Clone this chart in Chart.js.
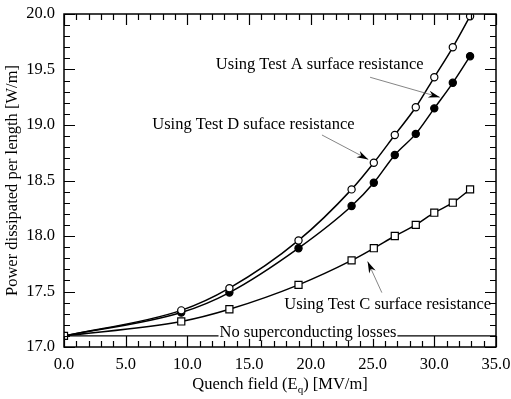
<!DOCTYPE html>
<html>
<head>
<meta charset="utf-8">
<script src="https://cdn.jsdelivr.net/npm/chart.js@4"></script>
<style>
  body { margin: 0; background: #fff; }
  #wrap { width: 511px; height: 399px; }
</style>
</head>
<body>
<div id="wrap"><canvas id="powerChart" width="511" height="399"></canvas></div>
<script>
// quench field values (MV/m), same for all three curves
let quenchField = [0, 9.5, 13.4, 19.0, 23.3, 25.1, 26.8, 28.5, 30.0, 31.5, 32.9];
// power dissipated per length (W/m)
let testA = [17.10, 17.33, 17.53, 17.96, 18.42, 18.66, 18.91, 19.16, 19.43, 19.70, 19.98];
let testD = [17.10, 17.31, 17.49, 17.89, 18.27, 18.48, 18.73, 18.92, 19.15, 19.38, 19.62];
let testC = [17.10, 17.23, 17.34, 17.56, 17.78, 17.89, 18.00, 18.10, 18.21, 18.30, 18.42];
let noLossX = [0, 35];
let noLossY = [17.1, 17.1];

let xTicks = [0, 5, 10, 15, 20, 25, 30, 35];
let yTicks = [17.0, 17.5, 18.0, 18.5, 19.0, 19.5, 20.0];

const FONT = '"Liberation Serif", "DejaVu Serif", serif';

function toPoints(xs, ys) {
    return xs.map((x, i) => ({ x: x, y: ys[i] }));
}

// arrows and labels, given in data coordinates (x,y = left edge / middle of text)
let notes = [
    { text: 'Using Test A surface resistance', x: 12.3, y: 19.54, from: [24.8, 19.43], to: [30.45, 19.25] },
    { text: 'Using Test D suface resistance', x: 7.15, y: 19.0, from: [20.9, 18.91], to: [24.65, 18.69] },
    { text: 'Using Test C surface resistance', x: 17.85, y: 17.385, from: [25.75, 17.49], to: [24.6, 17.77] }
];

const framePlugin = {
    id: 'frame',
    afterDraw(chart) {
        let ctx = chart.ctx;
        let xs = chart.scales.x, ys = chart.scales.y;
        let a = chart.chartArea;
        ctx.save();
        ctx.strokeStyle = '#000';
        ctx.lineWidth = 1.5;
        ctx.strokeRect(a.left, a.top, a.right - a.left, a.bottom - a.top);

        // inward ticks on all four sides
        ctx.lineWidth = 1.2;
        ctx.beginPath();
        for (let i = 0; i <= 35; i++) {
            let px = Math.round(xs.getPixelForValue(i)) + 0.5;
            let len = i % 5 == 0 ? 11 : 6;
            ctx.moveTo(px, a.bottom); ctx.lineTo(px, a.bottom - len);
            ctx.moveTo(px, a.top); ctx.lineTo(px, a.top + len);
        }
        for (let i = 0; i <= 30; i++) {
            let v = 17 + i / 10;
            let py = Math.round(ys.getPixelForValue(v)) + 0.5;
            let len = i % 5 == 0 ? 11 : 6;
            ctx.moveTo(a.left, py); ctx.lineTo(a.left + len, py);
            ctx.moveTo(a.right, py); ctx.lineTo(a.right - len, py);
        }
        ctx.stroke();

        ctx.font = '16.5px ' + FONT;
        ctx.fillStyle = '#000';

        // "No superconducting losses" label sitting on the line
        let lx = xs.getPixelForValue(12.6);
        let ly = ys.getPixelForValue(17.1);
        let label = 'No superconducting losses';
        let w = ctx.measureText(label).width;
        ctx.fillStyle = '#fff';
        ctx.fillRect(lx - 1, ly - 3, w + 2, 6);
        ctx.fillStyle = '#000';
        ctx.textAlign = 'left';
        ctx.textBaseline = 'alphabetic';
        ctx.fillText(label, lx, ly + 1.5);

        // annotations
        ctx.textBaseline = 'middle';
        for (let n of notes) {
            ctx.fillStyle = '#000';
            ctx.fillText(n.text, xs.getPixelForValue(n.x), ys.getPixelForValue(n.y));
            let x1 = xs.getPixelForValue(n.from[0]), y1 = ys.getPixelForValue(n.from[1]);
            let x2 = xs.getPixelForValue(n.to[0]), y2 = ys.getPixelForValue(n.to[1]);
            ctx.strokeStyle = '#666';
            ctx.lineWidth = 0.8;
            ctx.beginPath();
            ctx.moveTo(x1, y1); ctx.lineTo(x2, y2);
            ctx.stroke();
            let ang = Math.atan2(y2 - y1, x2 - x1);
            ctx.beginPath();
            ctx.moveTo(x2, y2);
            ctx.lineTo(x2 - 12 * Math.cos(ang - 0.3), y2 - 12 * Math.sin(ang - 0.3));
            ctx.lineTo(x2 - 8 * Math.cos(ang), y2 - 8 * Math.sin(ang));
            ctx.lineTo(x2 - 12 * Math.cos(ang + 0.3), y2 - 12 * Math.sin(ang + 0.3));
            ctx.closePath();
            ctx.fill();
        }

        // axis titles
        ctx.fillStyle = '#000';
        ctx.textAlign = 'center';
        ctx.textBaseline = 'middle';
        ctx.save();
        ctx.translate(13, (a.top + a.bottom) / 2);
        ctx.rotate(-Math.PI / 2);
        ctx.fillText('Power dissipated per length [W/m]', 0, 0);
        ctx.restore();

        let p1 = 'Quench field (E', sub = 'q', p2 = ') [MV/m]';
        ctx.textAlign = 'left';
        let w1 = ctx.measureText(p1).width;
        let w3 = ctx.measureText(p2).width;
        ctx.font = '11px ' + FONT;
        let w2 = ctx.measureText(sub).width;
        let start = (a.left + a.right) / 2 - (w1 + w2 + w3) / 2;
        let ty = 385;
        ctx.font = '16.5px ' + FONT;
        ctx.fillText(p1, start, ty);
        ctx.font = '11px ' + FONT;
        ctx.fillText(sub, start + w1, ty + 5);
        ctx.font = '16.5px ' + FONT;
        ctx.fillText(p2, start + w1 + w2, ty);
        ctx.restore();
    }
};

function noOverflow(s) {
    s.paddingTop = 0; s.paddingBottom = 0;
    s.paddingLeft = 0; s.paddingRight = 0;
}

let ctx = document.getElementById('powerChart');
let myChart = new Chart(ctx, {
    type: 'scatter',
    data: {
        datasets: [
            {
                label: 'Test C',
                data: toPoints(quenchField, testC),
                showLine: true,
                cubicInterpolationMode: 'monotone',
                borderColor: '#000',
                borderWidth: 1.5,
                pointStyle: 'rect',
                pointRadius: 5,
                pointBackgroundColor: '#fff',
                pointBorderColor: '#000',
                pointBorderWidth: 1.2,
                order: 0
            },
            {
                label: 'Test A',
                data: toPoints(quenchField, testA),
                showLine: true,
                cubicInterpolationMode: 'monotone',
                borderColor: '#000',
                borderWidth: 1.5,
                pointStyle: 'circle',
                pointRadius: 3.6,
                pointBackgroundColor: '#fff',
                pointBorderColor: '#000',
                pointBorderWidth: 1.2,
                order: 1
            },
            {
                label: 'Test D',
                data: toPoints(quenchField, testD),
                showLine: true,
                cubicInterpolationMode: 'monotone',
                borderColor: '#000',
                borderWidth: 1.5,
                pointStyle: 'circle',
                pointRadius: 3.6,
                pointBackgroundColor: '#000',
                pointBorderColor: '#000',
                pointBorderWidth: 1.2,
                order: 2
            },
            {
                label: 'No superconducting losses',
                data: toPoints(noLossX, noLossY),
                showLine: true,
                borderColor: '#000',
                borderWidth: 1.2,
                pointRadius: 0,
                order: 3
            }
        ]
    },
    options: {
        responsive: false,
        animation: false,
        layout: { padding: { top: 14, right: 15, left: 0, bottom: 0 } },
        plugins: {
            legend: { display: false },
            tooltip: { enabled: false }
        },
        scales: {
            x: {
                type: 'linear',
                min: 0,
                max: 35,
                afterFit: (s) => { s.height = 52; noOverflow(s); },
                afterBuildTicks: (s) => { s.ticks = xTicks.map(v => ({ value: v })); },
                grid: { display: false, drawTicks: false },
                border: { display: false },
                ticks: {
                    padding: 8,
                    color: '#000',
                    font: { family: FONT, size: 16.5 },
                    callback: (v) => Number(v).toFixed(1)
                }
            },
            y: {
                min: 17,
                max: 20,
                afterFit: (s) => { s.width = 64; noOverflow(s); },
                afterBuildTicks: (s) => { s.ticks = yTicks.map(v => ({ value: v })); },
                grid: { display: false, drawTicks: false },
                border: { display: false },
                ticks: {
                    padding: 9,
                    color: '#000',
                    font: { family: FONT, size: 16.5 },
                    callback: (v) => Number(v).toFixed(1)
                }
            }
        }
    },
    plugins: [framePlugin]
});
</script>
</body>
</html>
